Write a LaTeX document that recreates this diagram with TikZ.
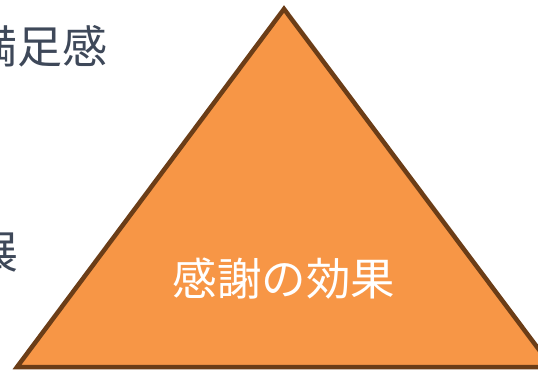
\documentclass[tikz,border=0pt]{standalone}
\usepackage{fontspec}
\newfontfamily\cjk{Noto Sans CJK JP}
\definecolor{triFill}{HTML}{F79646}
\definecolor{triLine}{HTML}{6B3D17}
\definecolor{sideText}{HTML}{3E4859}
\begin{document}
\begin{tikzpicture}[x=1pt,y=-1pt,
  sidelabel/.style={anchor=east,inner sep=0pt,text=sideText,font=\cjk\fontsize{45}{50}\selectfont},
  mainlabel/.style={inner sep=0pt,text=white,font=\cjk\fontsize{44.5}{50}\selectfont}]
\useasboundingbox (0,0) rectangle (538,371);
\clip (0,0) rectangle (538,371);
\coordinate (apex) at (284,9);
\coordinate (bl) at (17,367);
\coordinate (br) at (552,367);
\draw[fill=triFill,draw=triLine,line width=4.5pt,line join=miter] (apex) -- (bl) -- (br) -- cycle;
\node[mainlabel] (main) at (284,279) {感謝の効果};
\node[sidelabel] (s1) at (108,46) {満足感};
\node[sidelabel] (s2) at (19,253) {展};
\end{tikzpicture}
\end{document}
